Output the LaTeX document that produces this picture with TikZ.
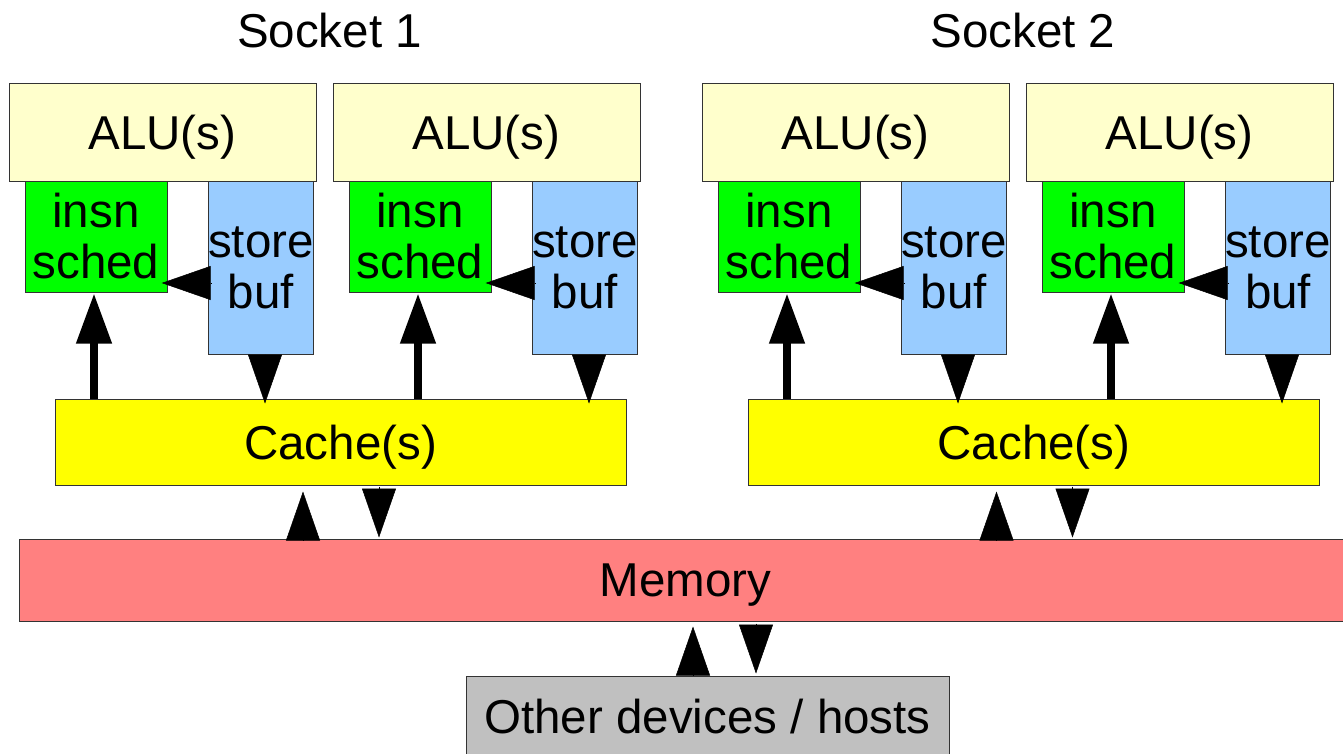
\documentclass[tikz,border=0pt]{standalone}
\usepackage{fontspec}
\setmainfont{Liberation Sans}
\usetikzlibrary{arrows.meta}
\definecolor{aluc}{HTML}{FFFFCC}
\definecolor{insnc}{HTML}{00FF00}
\definecolor{storec}{HTML}{99CCFF}
\definecolor{cachec}{HTML}{FFFF00}
\definecolor{memc}{HTML}{FF8080}
\definecolor{othc}{HTML}{C0C0C0}
\definecolor{boxline}{HTML}{333333}
\begin{document}
\begin{tikzpicture}[x=1pt,y=-1pt,
  bigfont/.style={font=\fontsize{47.5}{51}\selectfont},
  box/.style={draw=boxline, line width=1pt, inner sep=0pt, align=center, bigfont},
  onebox/.style={box, text depth=0pt},
  head/.style={-{Triangle[width=34pt,length=49pt]}, line width=0.5pt, black},
  shaft/.style={-{Triangle[width=34pt,length=50pt]}, line width=7.5pt, black},
]
\useasboundingbox (0,0) rectangle (1343,753);
\fill[white] (0,0) rectangle (1343,753);

\node[bigfont, anchor=base] (s1) at (329.5,47) {Socket 1};
\node[bigfont, anchor=base] (s2) at (1023,47) {Socket 2};

\foreach \o/\i in {0/1,324/2,693/3,1017/4} {
  \node[onebox, fill=aluc, minimum width=307pt, minimum height=98pt] (alu\i) at (162.5+\o,132) {ALU(s)};
  \node[box, fill=insnc, minimum width=142pt, minimum height=111pt] (ins\i) at (96+\o,236.5) {insn\\sched};
  \node[box, fill=storec, minimum width=104pt, minimum height=173pt] (sb\i) at (261+\o,267.5) {store\\buf};
}

\node[onebox, fill=cachec, minimum width=571pt, minimum height=86pt] (cache1) at (340.5,442) {Cache(s)};
\node[onebox, fill=cachec, minimum width=571pt, minimum height=86pt] (cache2) at (1034,442) {Cache(s)};
\node[onebox, fill=memc, minimum width=1333pt, minimum height=82pt] (mem) at (685.5,580) {Memory};
\node[onebox, fill=othc, minimum width=483pt, minimum height=81pt] (oth) at (707.5,716.5) {Other devices / hosts};

% core arrows
\foreach \i/\c in {1/cache1,2/cache1,3/cache2,4/cache2} {
  \draw[head] ([xshift=3pt,yshift=-15.5pt]sb\i.west) -- ([xshift=-46pt,yshift=-15.5pt]sb\i.west);
  \draw[shaft] ([xshift=-2pt]ins\i.south |- \c.north) -- ([xshift=-2pt,yshift=-1pt]ins\i.south);
  \draw[head] ([xshift=4pt]sb\i.south) -- ([xshift=4pt,yshift=-49pt]sb\i.south);
}

% cache <-> memory
\foreach \c in {cache1,cache2} {
  \draw[head] ([xshift=-37.5pt,yshift=-2pt]\c.south |- mem.north) -- ([xshift=-37.5pt,yshift=-6pt]\c.south);
  \draw[head] ([xshift=38.5pt,yshift=-1pt]\c.south) -- ([xshift=38.5pt,yshift=-52pt]\c.south);
}

% memory <-> other devices
\draw[head] ([xshift=-14.5pt]oth.north) -- ([xshift=-14.5pt,yshift=49pt]oth.north);
\draw[head] ([xshift=48.5pt,yshift=-2pt]oth.north |- mem.south) -- ([xshift=48.5pt,yshift=2pt]oth.north);
\end{tikzpicture}
\end{document}
